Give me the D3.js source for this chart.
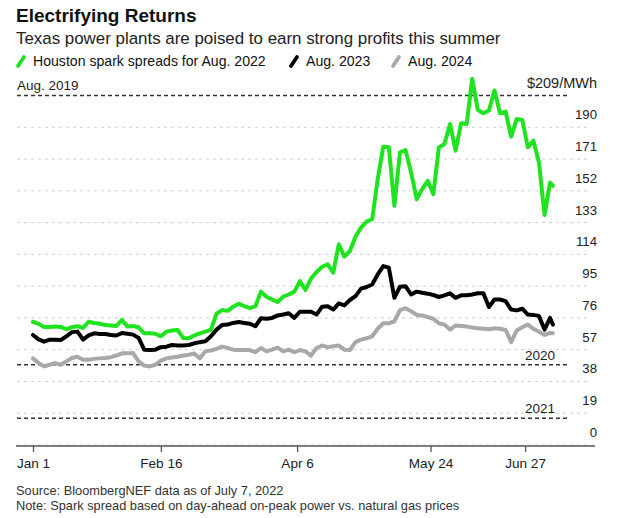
<!DOCTYPE html>
<html>
<head>
<meta charset="utf-8">
<script src="https://cdn.jsdelivr.net/npm/d3@7"></script>
<style>
  html, body { margin: 0; padding: 0; background: #fff; }
  svg { display: block; font-family: "Liberation Sans", Arial, sans-serif; }
</style>
</head>
<body>
<svg id="chart" width="630" height="518"></svg>
<script>
// ---------------- DATA ----------------
const dates = [
  "2022-01-01","2022-01-03","2022-01-05","2022-01-07","2022-01-09","2022-01-11","2022-01-13","2022-01-15","2022-01-17","2022-01-19",
  "2022-01-21","2022-01-23","2022-01-25","2022-01-27","2022-01-29","2022-01-31","2022-02-02","2022-02-04","2022-02-06","2022-02-08",
  "2022-02-10","2022-02-12","2022-02-14","2022-02-16","2022-02-18","2022-02-20","2022-02-22","2022-02-24","2022-02-26","2022-02-28",
  "2022-03-02","2022-03-04","2022-03-06","2022-03-08","2022-03-10","2022-03-12","2022-03-14","2022-03-16","2022-03-18","2022-03-20",
  "2022-03-22","2022-03-24","2022-03-26","2022-03-28","2022-03-30","2022-04-01","2022-04-03","2022-04-05","2022-04-07","2022-04-09",
  "2022-04-11","2022-04-13","2022-04-15","2022-04-17","2022-04-19","2022-04-21","2022-04-23","2022-04-25","2022-04-27","2022-04-29",
  "2022-05-01","2022-05-03","2022-05-05","2022-05-07","2022-05-09","2022-05-11","2022-05-13","2022-05-15","2022-05-17","2022-05-19",
  "2022-05-21","2022-05-23","2022-05-25","2022-05-27","2022-05-29","2022-05-31","2022-06-02","2022-06-04","2022-06-06","2022-06-08",
  "2022-06-10","2022-06-12","2022-06-14","2022-06-16","2022-06-18","2022-06-20","2022-06-22","2022-06-24","2022-06-26","2022-06-28",
  "2022-06-30","2022-07-02","2022-07-04","2022-07-06","2022-07-07"
];
const aug2022 = [
  73.7,72.5,70.5,70.5,70.8,70.6,69.2,70.5,71,70,
  73.7,73,72.5,71.8,71.5,71.2,74.8,70.8,71.2,70.4,
  66.8,66.8,66.5,65,67.8,68.5,68.8,64,63.8,65.5,
  66.8,67.8,68.8,78.5,80.7,80.2,82.7,84.5,83,81.8,
  83,91.7,88.7,87,85.5,88.7,90,91.7,98,92.7,
  99.5,103.5,106.6,108,103,120,112.6,116,124.5,130,
  133.6,135,159,178.4,178,143,175,176.4,163,147,
  153,158,150,178,180,192,176,192.4,192,219,
  200.4,198.4,200,212,198.4,199.4,184.4,195,194.4,178,
  182,169,137.6,157,155
];
const aug2023 = [
  65.8,63.2,61.8,63,63,62.8,65,67.5,67.8,63,
  65.5,66.8,66.4,66.4,65.8,65.5,67,66.5,66,64,
  57,56.8,57,58.5,58.8,59.8,59.5,59.5,59.8,60.8,
  61.5,62,65,69,71.8,72,73,73.5,73,72.5,
  71,75.8,75.5,76,77.5,78,78.8,76,79.7,79.7,
  79.7,78,82.7,83,81,84.7,83.5,86.7,89,93.5,
  94.5,96,102,107,106,88,94.7,95,90,91.7,
  91,90.5,89.7,88.5,89.5,90.7,88,89.5,89.5,90,
  90.7,90.7,82.5,87,87,86,81,80.5,81.5,78,
  77.8,77.2,69,76,72
];
const aug2024 = [
  51.8,49,47,48,49,48,50,52,52.8,51,
  51,51.5,51.8,52,52.5,53.5,54.8,54.8,55,50,
  47.5,47,48,50.5,51.8,52.3,52.8,53.5,54,54.8,
  51.8,56,56.5,57.5,58.8,58,57,56.8,56.8,56.8,
  55.5,58,56,57,58.2,56,57,55.5,56.8,56,
  53.5,58,59.5,58.5,59,59.5,57,56.8,61.5,63,
  63.8,65,69.5,72.8,72.8,74,80.7,81.8,80,77.8,
  77.5,76.5,75.5,72.8,72,69,71.5,71.2,70.8,70.2,
  69.8,69.5,69.2,69.8,69.5,68.8,61.5,68.5,70.5,72,
  69.5,67.8,65.8,67,66.8
];
const seriesNames = ["Houston spark spreads for Aug. 2022", "Aug. 2023", "Aug. 2024"];
const seriesColors = ["#1fe31f", "#000000", "#a8a8a8"];
const yTicks = [0, 19, 38, 57, 76, 95, 114, 133, 152, 171, 190, 209];
const xTickDates = ["2022-01-01", "2022-02-16", "2022-04-06", "2022-05-24", "2022-06-27"];
const xTickLabels = ["Jan 1", "Feb 16", "Apr 6", "May 24", "Jun 27"];
const refNames = ["Aug. 2019", "2020", "2021"];
const refValues = [209, 48, 16];

const title = "Electrifying Returns";
const subtitle = "Texas power plants are poised to earn strong profits this summer";
const source = "Source: BloombergNEF data as of July 7, 2022";
const note = "Note: Spark spread based on day-ahead on-peak power vs. natural gas prices";

// ---------------- CHART ----------------
const parse = d3.timeParse("%Y-%m-%d");
const svg = d3.select("#chart");

const x = d3.scaleTime()
  .domain([parse("2022-01-01"), parse("2022-07-07")])
  .range([33, 33 + 187 * 2.78]);
const y = d3.scaleLinear().domain([0, 209]).range([445, 95.5]);

const gridLeft = 17, gridRight = 590, refRight = 570, labelRight = 597;

// title block
svg.append("text").attr("x", 16).attr("y", 22)
  .attr("font-size", 19).attr("font-weight", "bold").attr("fill", "#111")
  .text(title);
svg.append("text").attr("x", 16).attr("y", 44)
  .attr("font-size", 16.9).attr("fill", "#222")
  .text(subtitle);

// legend
const legendX = [17, 290, 392];
seriesNames.forEach((name, i) => {
  const g = svg.append("g").attr("transform", `translate(${legendX[i]},0)`);
  g.append("line").attr("x1", 1).attr("y1", 66).attr("x2", 7).attr("y2", 57)
    .attr("stroke", seriesColors[i]).attr("stroke-width", 3.8).attr("stroke-linecap", "round");
  g.append("text").attr("x", 16).attr("y", 66).attr("font-size", 14.1).attr("fill", "#111").text(name);
});

// gridlines
const grid = svg.append("g");
grid.selectAll("line").data(yTicks.filter(v => v < 209)).join("line")
  .attr("x1", gridLeft).attr("x2", gridRight)
  .attr("y1", d => y(d)).attr("y2", d => y(d))
  .attr("stroke", "#cfcfcf").attr("stroke-width", 1).attr("stroke-dasharray", "3,4");

// y labels
svg.append("g").selectAll("text").data(yTicks).join("text")
  .attr("x", labelRight).attr("y", d => y(d) - 8)
  .attr("text-anchor", "end").attr("font-size", d => d === 209 ? 14.5 : 13.2).attr("fill", "#222")
  .text(d => d === 209 ? "$209/MWh" : d);

// reference dashed lines
const refG = svg.append("g");
refG.selectAll("line").data(refValues).join("line")
  .attr("x1", gridLeft).attr("x2", refRight)
  .attr("y1", d => y(d)).attr("y2", d => y(d))
  .attr("stroke", "#333").attr("stroke-width", 1.5).attr("stroke-dasharray", "4,3");
refG.selectAll("text").data(refValues).join("text")
  .attr("x", (d, i) => i === 0 ? 17 : 555)
  .attr("y", (d, i) => y(d) - (i === 0 ? 6 : 5))
  .attr("text-anchor", (d, i) => i === 0 ? "start" : "end")
  .attr("font-size", 13.5).attr("fill", "#222")
  .text((d, i) => refNames[i]);

// x axis
const xAxis = d3.axisBottom(x)
  .tickValues(xTickDates.map(parse))
  .tickSize(6)
  .tickPadding(6)
  .tickFormat((d, i) => xTickLabels[i]);
const ax = svg.append("g").attr("transform", "translate(0,446)").call(xAxis);
ax.select(".domain").remove();
ax.selectAll(".tick line").attr("stroke", "#555").attr("stroke-width", 1.3);
ax.selectAll(".tick text").attr("font-size", 13.6).attr("fill", "#222")
  .attr("font-family", "Liberation Sans, Arial, sans-serif");
svg.append("line").attr("x1", 16).attr("x2", 595).attr("y1", 446).attr("y2", 446)
  .attr("stroke", "#555").attr("stroke-width", 1.5);

// lines
const series = [aug2024, aug2023, aug2022];
const cols = [seriesColors[2], seriesColors[1], seriesColors[0]];
const line = d3.line().x((d, i) => x(parse(dates[i]))).y(d => y(d));
series.forEach((vals, k) => {
  svg.append("path").datum(vals)
    .attr("fill", "none").attr("stroke", cols[k]).attr("stroke-width", 4)
    .attr("stroke-linejoin", "round").attr("stroke-linecap", "round")
    .attr("d", line);
});

// footnotes
svg.append("text").attr("x", 16).attr("y", 495).attr("font-size", 12.8).attr("fill", "#333").text(source);
svg.append("text").attr("x", 16).attr("y", 510).attr("font-size", 12.8).attr("fill", "#333").text(note);
</script>
</body>
</html>
